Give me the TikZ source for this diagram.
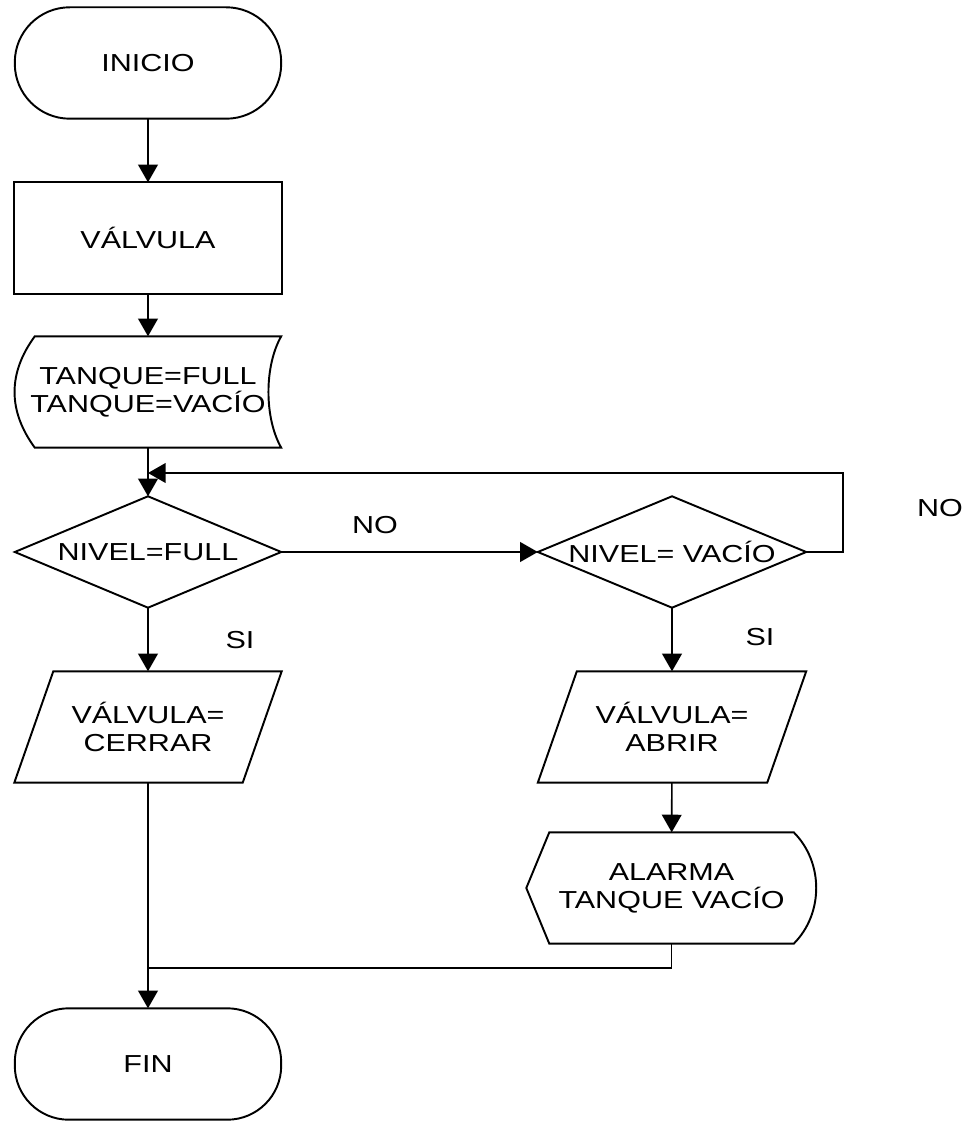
\documentclass[tikz,border=0pt]{standalone}
\usepackage{fontspec}
\setmainfont{Liberation Sans}[FakeStretch=1.24]
\usetikzlibrary{arrows.meta}
\begin{document}
\begin{tikzpicture}
[nodebox/.style={shape=rectangle,minimum height=1.1cm,inner sep=0pt,align=center,font=\fontsize{7}{8}\selectfont},%
  shapeline/.style={line width=0.55pt},
  linedecorate/.style={-,line width=0.45pt},
  arrowdecorate/.style={line width=0.45pt,-{Triangle[width=5.6pt,length=5pt]}},
  labeldecorate/.style={font=\fontsize{7}{8}\selectfont}]
\useasboundingbox (0,0) rectangle (9.69,-11.21);
%% nodes or boxes
\foreach \nodename/\x/\y/\w/\txt in {inicio/1.48/-0.63/2.65/INICIO,
  valvula/1.48/-2.38/2.66/{VÁLVULA}, tanque/1.48/-3.92/2.65/{TANQUE=FULL\\TANQUE=VACÍO},
  full/1.48/-5.52/2.65/{NIVEL=FULL}, vacio/6.72/-5.52/2.67/{NIVEL= VACÍO},
  cerrar/1.48/-7.27/2.66/{VÁLVULA=\\CERRAR}, abrir/6.72/-7.27/2.67/{VÁLVULA=\\ABRIR},
  alarma/6.715/-8.88/2.89/{ALARMA\\TANQUE VACÍO}, fin/1.48/-10.64/2.65/FIN} {
  \node (\nodename) at (\x,\y) [nodebox,minimum width=\w cm] {\txt};
}
%% outlines
\draw[shapeline,rounded corners=0.55cm] (inicio.south west) rectangle (inicio.north east);
\draw[shapeline,rounded corners=0.54cm] (fin.south west) rectangle (fin.north east);
\draw[shapeline] (valvula.south west) rectangle (valvula.north east);
\draw[shapeline] ([xshift=0.2cm]tanque.north west) -- (tanque.north east)
  .. controls +(-0.17,-0.3) and +(-0.17,0.3) .. (tanque.south east)
  -- ([xshift=0.2cm]tanque.south west)
  .. controls +(-0.27,0.37) and +(-0.27,-0.37) .. cycle;
\foreach \nodename in {full, vacio}
  \draw[shapeline] (\nodename.north) -- (\nodename.east) -- (\nodename.south)
    -- (\nodename.west) -- cycle;
\foreach \nodename in {cerrar, abrir}
  \draw[shapeline] ([xshift=0.39cm]\nodename.north west) -- (\nodename.north east)
    -- ([xshift=-0.39cm]\nodename.south east) -- (\nodename.south west) -- cycle;
\draw[shapeline] ([xshift=0.23cm]alarma.north west) -- ([xshift=-0.23cm]alarma.north east)
  .. controls +(0.3,-0.3) and +(0.3,0.3) .. ([xshift=-0.23cm]alarma.south east)
  -- ([xshift=0.23cm]alarma.south west) -- (alarma.west) -- cycle;
%% labels
\node[labeldecorate] (nofull) at (3.75,-5.25) {NO};
\node[labeldecorate] (novacio) at (9.40,-5.08) {NO};
\node[labeldecorate] (sifull) at (2.40,-6.40) {SI};
\node[labeldecorate] (sivacio) at (7.60,-6.37) {SI};
%% edges or lines
\coordinate (loopin) at (1.48,-4.73);
\coordinate (merge) at (1.48,-9.68);
\path
\foreach \startnode/\endnode in {inicio/valvula, valvula/tanque, tanque/full,
  full/vacio, full/cerrar, vacio/abrir, abrir/alarma, cerrar/fin} {
  (\startnode) edge[arrowdecorate] (\endnode)
};
\draw[arrowdecorate] (vacio.east) -- ++(0.37,0) |- (loopin);
\draw[linedecorate] (alarma.south) |- (merge);
\end{tikzpicture}
\end{document}
